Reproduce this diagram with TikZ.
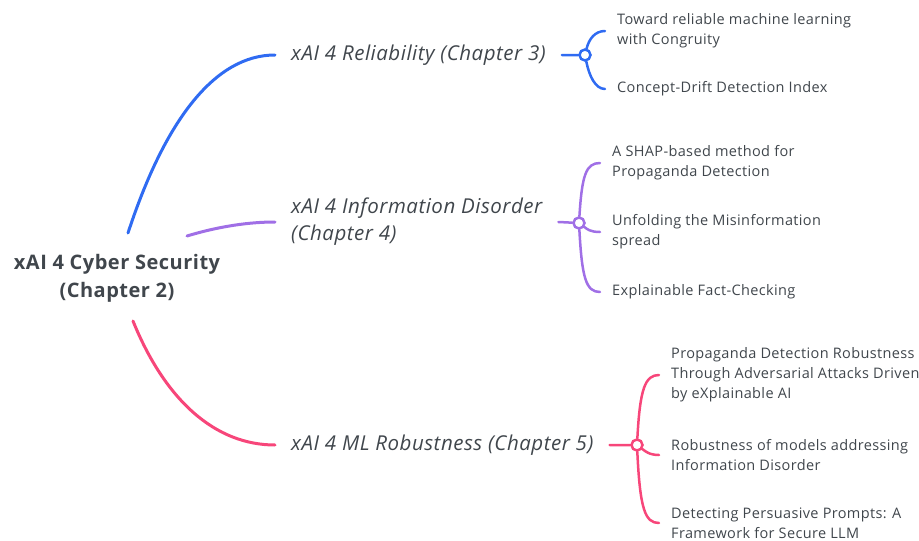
\documentclass[tikz,border=0pt]{standalone}
\usepackage{fontspec}
\setmainfont{Open Sans}[LetterSpace=2.5]

\definecolor{txtgray}{HTML}{40464C}
\definecolor{relblue}{HTML}{2F6BF2}
\definecolor{infpurple}{HTML}{A06FE6}
\definecolor{robpink}{HTML}{F7467A}

\begin{document}
\begin{tikzpicture}
  [x=1pt,y=-1pt,line cap=round,every node/.style={text=txtgray}]

  \tikzstyle{root}    = [font=\fontsize{20}{28}\selectfont\bfseries, align=center, inner sep=0pt]
  \tikzstyle{chapter} = [font=\fontsize{20.5}{27}\selectfont\itshape, align=left, anchor=west, inner xsep=16pt, inner ysep=0pt]
  \tikzstyle{paper}   = [font=\fontsize{14.5}{20}\selectfont, align=left, anchor=west, inner xsep=12pt, inner ysep=0pt]
  \tikzstyle{hub}     = [circle, draw, fill=white, line width=2.5pt, minimum size=11pt, inner sep=0pt]
  \tikzstyle{trunk}   = [line width=3pt]
  \tikzstyle{twig}    = [line width=2.5pt]

  \useasboundingbox (0,0) rectangle (919,541);

  % root
  \node[root] (cyber) at (117,278) {xAI 4 Cyber Security\\(Chapter 2)};
  \coordinate (cyberUp)  at (128,233);
  \coordinate (cyberMid) at (187,236);
  \coordinate (cyberLow) at (133,321);

  % chapters
  \node[chapter] (rel) at (275,55)  {xAI 4 Reliability (Chapter 3)};
  \node[chapter] (inf) at (275,222) {xAI 4 Information Disorder\\(Chapter 4)};
  \node[chapter] (rob) at (275,445) {xAI 4 ML Robustness (Chapter 5)};

  % papers
  \node[paper] (relA) at (605,31)  {Toward reliable machine learning\\with Congruity};
  \node[paper] (relB) at (605,89)  {Concept-Drift Detection Index};
  \node[paper] (infA) at (600,163) {A SHAP-based method for\\Propaganda Detection};
  \node[paper] (infB) at (600,232) {Unfolding the Misinformation\\spread};
  \node[paper] (infC) at (600,292) {Explainable Fact-Checking};
  \node[paper] (robA) at (659,375) {Propaganda Detection Robustness\\Through Adversarial Attacks Driven\\by eXplainable AI};
  \node[paper] (robB) at (659,455) {Robustness of models addressing\\Information Disorder};
  \node[paper] (robC) at (659,523) {Detecting Persuasive Prompts: A\\Framework for Secure LLM};

  % hubs
  \node[hub, draw=relblue]   (relHub) at (585,55)  {};
  \node[hub, draw=infpurple] (infHub) at (579,223) {};
  \node[hub, draw=robpink]   (robHub) at (637,445) {};

  \draw[trunk, relblue]   (cyberUp)  .. controls (165,120) and (215,55)  .. (rel.west);
  \draw[trunk, infpurple] (cyberMid) .. controls (220,226) and (250,222) .. (inf.west);
  \draw[trunk, robpink]   (cyberLow) .. controls (165,400) and (215,445) .. (rob.west);

  \draw[twig, relblue]
        (rel.east) -- (relHub)
        (relHub) .. controls +(4,-16) and +(-10,0) .. (relA.west)
        (relHub) .. controls +(4,20)  and +(-10,0) .. (relB.west);
  \draw[twig, infpurple]
        (inf.east) -- (infHub)
        (infHub) .. controls +(3,-48) and +(-14,0) .. (infA.west)
        (infHub) .. controls +(8,6)   and +(-10,0) .. (infB.west)
        (infHub) .. controls +(3,55)  and +(-14,0) .. (infC.west);
  \draw[twig, robpink]
        (rob.east) -- (robHub)
        (robHub) .. controls +(3,-56) and +(-14,0) .. (robA.west)
        (robHub) .. controls +(8,6)   and +(-10,0) .. (robB.west)
        (robHub) .. controls +(3,64)  and +(-14,0) .. (robC.west);
\end{tikzpicture}
\end{document}
